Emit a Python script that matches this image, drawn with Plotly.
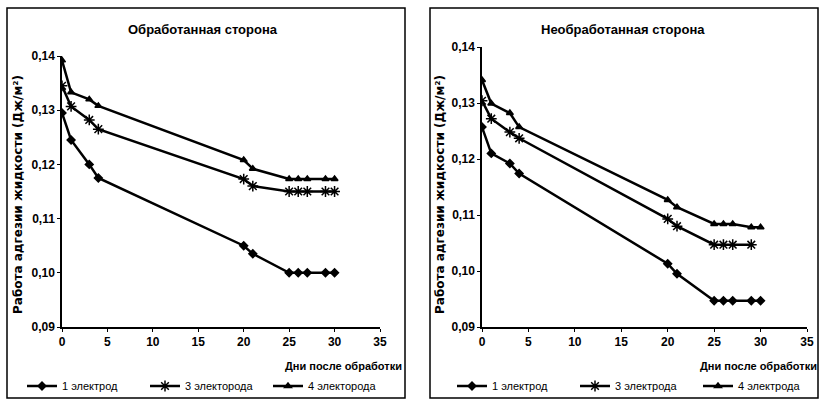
import plotly.graph_objects as go

days_a = [0, 1, 3, 4, 20, 21, 25, 26, 27, 29, 30]
left_e1 = [0.1295, 0.1245, 0.1200, 0.1175, 0.1050, 0.1035, 0.1000, 0.1000, 0.1000, 0.1000, 0.1000]
left_e3 = [0.1345, 0.1307, 0.1282, 0.1265, 0.1173, 0.1160, 0.1150, 0.1150, 0.1150, 0.1150, 0.1150]
left_e4 = [0.1392, 0.1333, 0.1320, 0.1308, 0.1208, 0.1192, 0.1173, 0.1173, 0.1173, 0.1173, 0.1173]

days_r3 = [0, 1, 3, 4, 20, 21, 25, 26, 27, 29]
right_e1 = [0.1257, 0.1210, 0.1192, 0.1174, 0.1013, 0.0995, 0.0947, 0.0947, 0.0947, 0.0947, 0.0947]
right_e3 = [0.1304, 0.1272, 0.1248, 0.1237, 0.1093, 0.1080, 0.1047, 0.1047, 0.1047, 0.1047]
right_e4 = [0.1341, 0.1299, 0.1282, 0.1257, 0.1127, 0.1114, 0.1084, 0.1084, 0.1084, 0.1078, 0.1078]

titles = ["Обработанная сторона", "Необработанная сторона"]
legend_left = ["1 электрод", "3 электорода", "4 электорода"]
legend_right = ["1 электрод", "3 электрода", "4 электрода"]
y_title = "Работа адгезии жидкости (Дж/м²)"
x_title = "Дни после обработки"
x_ticks = [0, 5, 10, 15, 20, 25, 30, 35]
y_ticks = [0.09, 0.10, 0.11, 0.12, 0.13, 0.14]

FONT = "Liberation Sans Narrow, Liberation Sans, Arial, sans-serif"
FONT_WIDE = "DejaVu Sans, Liberation Sans, Arial, sans-serif"
W, H = 820, 400

def px_x(p):
    return p / W

def px_y(p):
    return 1 - p / H

symbols = ["diamond", "asterisk-open", "triangle-up"]
msize = [6, 9, 6]

fig = go.Figure()

panels = [
    ("x", "y", "legend", [(days_a, left_e1), (days_a, left_e3), (days_a, left_e4)], legend_left),
    ("x2", "y2", "legend2", [(days_a, right_e1), (days_r3, right_e3), (days_a, right_e4)], legend_right),
]
for xa, ya, lg, series, names in panels:
    for i, (xs, ys) in enumerate(series):
        fig.add_trace(go.Scatter(
            x=xs, y=ys, mode="lines+markers", name=names[i], legend=lg,
            xaxis=xa, yaxis=ya,
            line=dict(color="black", width=2.5),
            marker=dict(symbol=symbols[i], size=msize[i], color="black",
                        line=dict(color="black", width=1.5)),
        ))

axis_common = dict(
    showgrid=False, zeroline=False, showline=True, linecolor="black", linewidth=1.5,
    ticks="outside", ticklen=3, tickcolor="black", automargin=False,
    tickfont=dict(family=FONT, size=12, color="black", weight="bold"),
)

legend_common = dict(
    orientation="h", xanchor="left", yanchor="middle",
    entrywidth=78, entrywidthmode="pixels", itemwidth=30,
    font=dict(family=FONT, size=11, color="black"), bgcolor="rgba(0,0,0,0)",
)

fig.update_layout(
    width=W, height=H, margin=dict(l=0, r=0, t=0, b=0, autoexpand=False),
    paper_bgcolor="white", plot_bgcolor="white",
    separators=", ",
    showlegend=True,
    xaxis=dict(domain=[px_x(62), px_x(380)], range=[0, 35], tickvals=x_ticks,
               anchor="y", **axis_common),
    yaxis=dict(domain=[px_y(327), px_y(56)], range=[0.09, 0.14], tickvals=y_ticks,
               tickformat=".2f", anchor="x", **axis_common),
    xaxis2=dict(domain=[px_x(482), px_x(807)], range=[0, 35], tickvals=x_ticks,
                anchor="y2", **axis_common),
    yaxis2=dict(domain=[px_y(327), px_y(47)], range=[0.09, 0.14], tickvals=y_ticks,
                tickformat=".2f", anchor="x2", **axis_common),
    legend=dict(x=px_x(22), y=px_y(386), **legend_common),
    legend2=dict(x=px_x(452), y=px_y(386), **legend_common),
)

# panel borders
fig.add_shape(type="rect", xref="paper", yref="paper",
              x0=px_x(7), x1=px_x(405), y0=px_y(398), y1=px_y(8),
              line=dict(color="black", width=1.5))
fig.add_shape(type="rect", xref="paper", yref="paper",
              x0=px_x(430), x1=px_x(818), y0=px_y(398), y1=px_y(8),
              line=dict(color="black", width=1.5))

ann_font_b = dict(family=FONT, size=13, color="black", weight="bold")
for cx, t in [(203, titles[0]), (623, titles[1])]:
    fig.add_annotation(text=t, xref="paper", yref="paper", x=px_x(cx), y=px_y(30),
                       showarrow=False, font=ann_font_b, xanchor="center", yanchor="middle")
for cx in [18, 440]:
    fig.add_annotation(text=y_title, xref="paper", yref="paper", x=px_x(cx), y=px_y(195),
                       showarrow=False, textangle=-90,
                       font=dict(family=FONT_WIDE, size=12, color="black", weight="bold"),
                       xanchor="center", yanchor="middle")
for rx in [404, 819]:
    fig.add_annotation(text=x_title, xref="paper", yref="paper", x=px_x(rx), y=px_y(366),
                       showarrow=False, font=dict(family=FONT, size=11, color="black", weight="bold"),
                       xanchor="right", yanchor="middle")

fig.write_html("out.html")
